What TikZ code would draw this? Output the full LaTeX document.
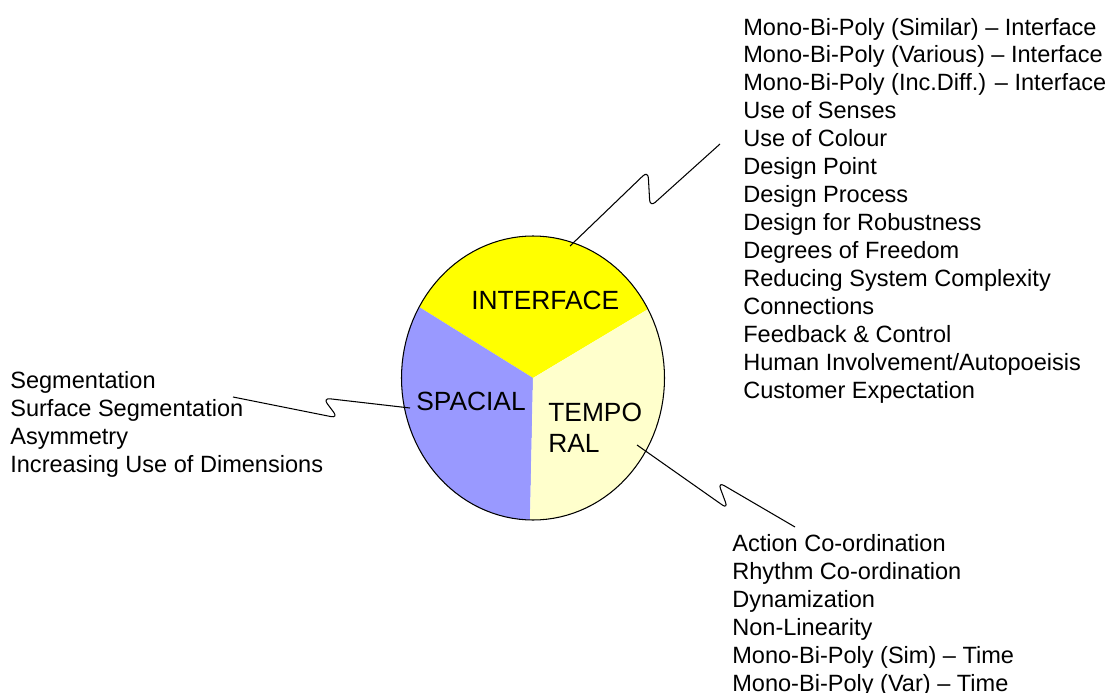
\documentclass[tikz,border=0pt]{standalone}
\usepackage{fontspec}
\setmainfont{Liberation Sans}
\definecolor{ifcblock}{RGB}{255, 255, 0}
\definecolor{spcblock}{RGB}{153, 153, 255}
\definecolor{tmpblock}{RGB}{255, 255, 204}
\tikzset{
	item/.style={anchor=base west, inner sep=0pt, font=\fontsize{13.4}{16}\selectfont},
	sectorlabel/.style={anchor=base west, inner sep=0pt, align=left, font=\fontsize{15}{17.2}\selectfont},
	squiggle/.style={black, line width=0.6pt, rounded corners=4pt},
}

\begin{document}
\begin{tikzpicture}[x=0.02cm, y=-0.02cm]
			\useasboundingbox (0,0) rectangle (1109,693);
			\def\cx{533}
			\def\cy{378}
			\def\rx{131.5}
			\def\ry{142}

			% disc split into three sectors
			\fill[ifcblock] (\cx,\cy) -- plot[domain=29:150, samples=60, variable=\t] ({\cx+\rx*cos(\t)}, {\cy-\ry*sin(\t)}) -- cycle;
			\fill[spcblock] (\cx,\cy) -- plot[domain=150:268.7, samples=60, variable=\t] ({\cx+\rx*cos(\t)}, {\cy-\ry*sin(\t)}) -- cycle;
			\fill[tmpblock] (\cx,\cy) -- plot[domain=268.7:389, samples=60, variable=\t] ({\cx+\rx*cos(\t)}, {\cy-\ry*sin(\t)}) -- cycle;
			\draw[black, line width=0.6pt] plot[domain=0:360, samples=121, variable=\t] ({\cx+\rx*cos(\t)}, {\cy-\ry*sin(\t)}) -- cycle;

			\node[sectorlabel] (ifc) at (471,309) {INTERFACE};
			\node[sectorlabel] (spc) at (416,410) {SPACIAL};
			\node[sectorlabel] (tmp) at (548,452) {TEMPO\\RAL};

			% lists of principles
			\foreach \txt [count=\i] in {{Mono-Bi-Poly (Similar) -- Interface}, {Mono-Bi-Poly (Various) -- Interface},
				{Mono-Bi-Poly (Inc.Diff.) -- Interface}, {Use of Senses}, {Use of Colour}, {Design Point},
				{Design Process}, {Design for Robustness}, {Degrees of Freedom}, {Reducing System Complexity},
				{Connections}, {Feedback \& Control}, {Human Involvement/Autopoeisis}, {Customer Expectation}}
				\node[item] (ifc-\i) at (743, {35+27.95*(\i-1)}) {\txt};

			\foreach \txt [count=\i] in {Segmentation, Surface Segmentation, Asymmetry, Increasing Use of Dimensions}
				\node[item] (spc-\i) at (10, {388+28*(\i-1)}) {\txt};

			\foreach \txt [count=\i] in {{Action Co-ordination}, {Rhythm Co-ordination}, {Dynamization}, {Non-Linearity},
				{Mono-Bi-Poly (Sim) -- Time}, {Mono-Bi-Poly (Var) -- Time}}
				\node[item] (tmp-\i) at (732, {551+28*(\i-1)}) {\txt};

			% squiggly leader lines
			\coordinate (ifc-in) at (570,246);
			\coordinate (ifc-out) at (720,144);
			\coordinate (spc-in) at (410,408);
			\coordinate (spc-out) at (233,397);
			\coordinate (tmp-in) at (637,445);
			\coordinate (tmp-out) at (795,527);

			\draw[squiggle] (ifc-in) -- (648,171) -- (650,207) -- (ifc-out);
			\draw[squiggle] (spc-out) -- (338,418) -- (323,398) -- (spc-in);
			\draw[squiggle] (tmp-in) -- (728,509) -- (718,482) -- (tmp-out);
		\end{tikzpicture}
\end{document}
